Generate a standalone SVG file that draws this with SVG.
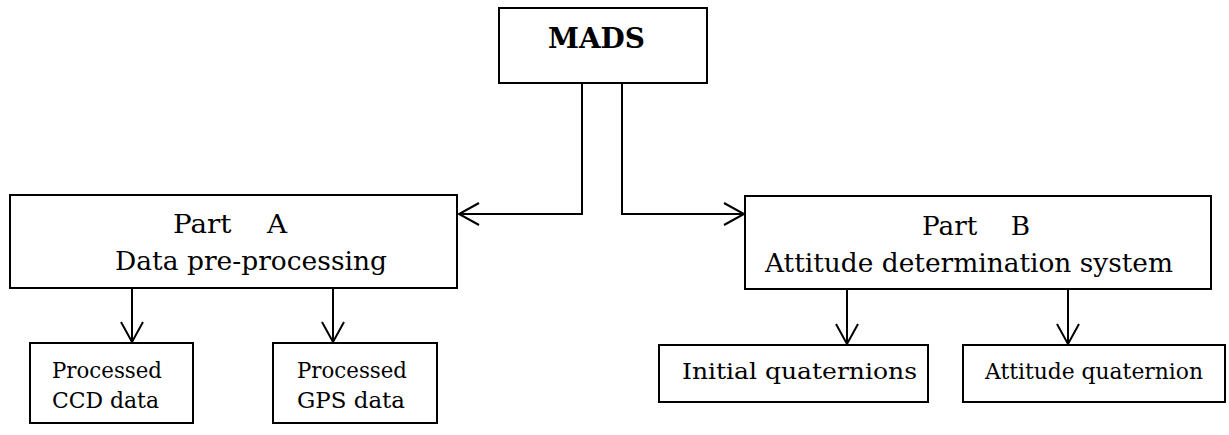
<svg xmlns="http://www.w3.org/2000/svg" width="1229" height="435" viewBox="0 0 1229 435">
<style>
.box{fill:#fff;stroke:#000;stroke-width:2}
.t{font-family:"DejaVu Serif","Liberation Serif",serif;fill:#000;white-space:pre}
.big{font-size:26px}
.sm{font-size:22px}
.b{font-size:28px;font-weight:bold}
.c{fill:none;stroke:#000;stroke-width:2;marker-end:url(#arr)}
</style>
<defs>
<marker id="arr" markerUnits="userSpaceOnUse" markerWidth="26" markerHeight="26" viewBox="0 0 26 26" refX="23" refY="13" orient="auto">
<path d="M3,2 L23,13 L3,24" fill="none" stroke="#000" stroke-width="2"/>
</marker>
</defs>
<rect width="1229" height="435" fill="#fff"/>
<g id="connectors">
<path class="c" d="M582,83 V214 H459"/>
<path class="c" d="M622,83 V214 H744"/>
<path class="c" d="M132,288 V342"/>
<path class="c" d="M333,288 V342"/>
<path class="c" d="M847,289 V344"/>
<path class="c" d="M1068,289 V344"/>
</g>
<g id="mads">
<rect class="box" x="499" y="8" width="208" height="75"/>
<text class="t b" x="548" y="48" textLength="97" lengthAdjust="spacingAndGlyphs">MADS</text>
</g>
<g id="partA">
<rect class="box" x="10" y="195" width="447" height="93"/>
<text class="t big" x="173" y="233" textLength="114" lengthAdjust="spacingAndGlyphs">Part    A</text>
<text class="t big" x="115" y="270" textLength="272" lengthAdjust="spacingAndGlyphs">Data pre-processing</text>
</g>
<g id="partB">
<rect class="box" x="745" y="196" width="466" height="93"/>
<text class="t big" x="922" y="235" textLength="108" lengthAdjust="spacingAndGlyphs">Part    B</text>
<text class="t big" x="765" y="272" textLength="408" lengthAdjust="spacingAndGlyphs">Attitude determination system</text>
</g>
<g id="ccd">
<rect class="box" x="30" y="343" width="163" height="80"/>
<text class="t sm" x="52" y="378" textLength="110" lengthAdjust="spacingAndGlyphs">Processed</text>
<text class="t sm" x="52" y="408" textLength="107" lengthAdjust="spacingAndGlyphs">CCD data</text>
</g>
<g id="gps">
<rect class="box" x="273" y="343" width="164" height="80"/>
<text class="t sm" x="297" y="378" textLength="110" lengthAdjust="spacingAndGlyphs">Processed</text>
<text class="t sm" x="297" y="408" textLength="108" lengthAdjust="spacingAndGlyphs">GPS data</text>
</g>
<g id="initial">
<rect class="box" x="659" y="345" width="269" height="57"/>
<text class="t sm" x="682" y="379" textLength="235" lengthAdjust="spacingAndGlyphs">Initial quaternions</text>
</g>
<g id="attitude">
<rect class="box" x="963" y="345" width="262" height="57"/>
<text class="t sm" x="985" y="379" textLength="218" lengthAdjust="spacingAndGlyphs">Attitude quaternion</text>
</g>
</svg>
